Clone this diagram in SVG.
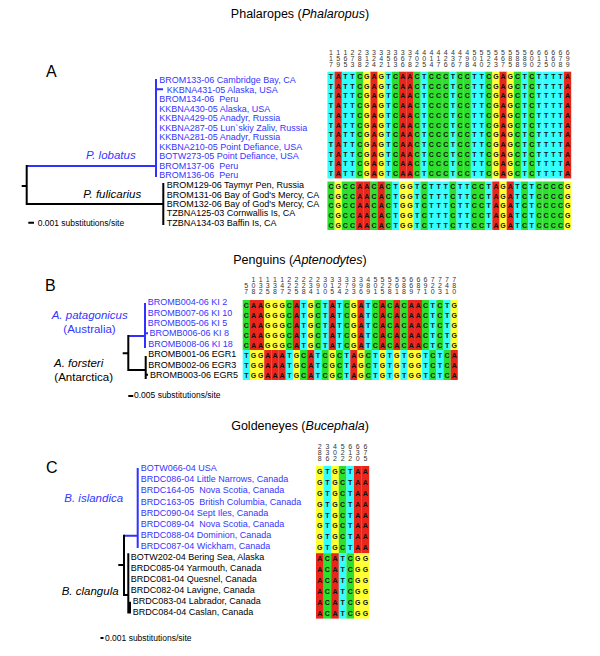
<svg xmlns="http://www.w3.org/2000/svg" width="600" height="656" viewBox="0 0 600 656">
<style>
.A{fill:#e8261c}.C{fill:#2ee02e}.G{fill:#ffff33}.T{fill:#33ffff}
.seq{font-family:"Liberation Sans",Arial,sans-serif;font-weight:bold;font-size:7px;text-anchor:middle;fill:#111}
.hdr{font-family:"Liberation Sans",Arial,sans-serif;font-size:7px;text-anchor:middle;fill:#333}
.lbl{font-family:"Liberation Sans",Arial,sans-serif;font-size:9px;white-space:pre;fill:#000}
.blue{fill:#3535ff}
.sp{font-family:"Liberation Sans",Arial,sans-serif;font-size:11.5px;font-style:italic}
.spn{font-family:"Liberation Sans",Arial,sans-serif;font-size:11.5px}
.title{font-family:"Liberation Sans",Arial,sans-serif;font-size:12.5px;text-anchor:middle}
.panel{font-family:"Liberation Sans",Arial,sans-serif;font-size:16px}
.scale{font-family:"Liberation Sans",Arial,sans-serif;font-size:8.5px}
.bl{stroke:#3030ff;stroke-width:2;fill:none}
.bk{stroke:#000;stroke-width:2;fill:none}
</style>
<defs>
<text id="aLob" class="seq" x="3.59 10.76 17.93 25.1 32.27 39.44 46.61 53.78 60.95 68.12 75.29 82.46 89.63 96.8 103.97 111.14 118.31 125.48 132.65 139.82 146.99 154.16 161.33 168.5 175.67 182.84 190.01 197.18 204.35 211.52 218.69 225.86 233.03 240.2">TATTCGAGTCAACTCCCTCCTTCGAGCTCTTTTA</text>
<text id="aFul" class="seq" x="3.59 10.76 17.93 25.1 32.27 39.44 46.61 53.78 60.95 68.12 75.29 82.46 89.63 96.8 103.97 111.14 118.31 125.48 132.65 139.82 146.99 154.16 161.33 168.5 175.67 182.84 190.01 197.18 204.35 211.52 218.69 225.86 233.03 240.2">CGCCAACACTGGTCTTTCTTCCTAGATCTCCCCG</text>
<text id="bPat" class="seq" x="3.59 10.76 17.93 25.1 32.27 39.44 46.61 53.78 60.95 68.12 75.29 82.46 89.63 96.8 103.97 111.14 118.31 125.48 132.65 139.82 146.99 154.16 161.33 168.5 175.67 182.84 190.01 197.18 204.35 211.52">CAAGGGCATGCTATCGATCACACAACTCTG</text>
<text id="bFor" class="seq" x="3.59 10.76 17.93 25.1 32.27 39.44 46.61 53.78 60.95 68.12 75.29 82.46 89.63 96.8 103.97 111.14 118.31 125.48 132.65 139.82 146.99 154.16 161.33 168.5 175.67 182.84 190.01 197.18 204.35 211.52">TGGAAATGCATCGCTAGCTGTGTGGTCTCA</text>
<text id="cIsl" class="seq" x="3.8 11.4 19 26.6 34.2 41.8 49.4">GTGCTAA</text>
<text id="cCla" class="seq" x="3.8 11.4 19 26.6 34.2 41.8 49.4">ACATCGG</text>
</defs>

<text class="title" x="300" y="17.5">Phalaropes (<tspan font-style="italic">Phalaropus</tspan>)</text>
<text class="title" x="300" y="263.5">Penguins (<tspan font-style="italic">Aptenodytes</tspan>)</text>
<text class="title" x="300" y="429.5">Goldeneyes (<tspan font-style="italic">Bucephala</tspan>)</text>
<text class="panel" x="46" y="77">A</text>
<text class="panel" x="45" y="291">B</text>
<text class="panel" x="46" y="473">C</text>

<g id="connectors">
<path class="bl" d="M26.7 166H156M156 79V177M156 89.3H163"/>
<path class="bk" d="M21.7 186H26.7M26.7 165V205M26.7 204H163.3M163.3 183V225"/>
<path class="bl" d="M128.3 336H145M145 303V348M145 333.2H148"/>
<path class="bk" d="M122.7 353.3H128.3M128.3 335V371M128.3 370H145.7M145.7 356V379M145.7 374.8H148"/>
<path class="bl" d="M124 535.7H137.7M137.7 468V548"/>
<path class="bk" d="M118.3 565H124M124 534.7V596M124 595H128.3M128.3 553.3V613.5M130 601.7V613.5"/>
<path class="bk" d="M28.3 222.7H34M128.3 396H133.3M100.5 638H103.5"/>
</g>

<g id="treeA">
<text class="lbl blue" x="159.3" y="83.2">BROM133-06 Cambridge Bay, CA</text>
<text class="lbl blue" x="166.7" y="92.7">KKBNA431-05 Alaska, USA</text>
<text class="lbl blue" x="159.3" y="102.2">BROM134-06  Peru</text>
<text class="lbl blue" x="159.3" y="111.7">KKBNA430-05 Alaska, USA</text>
<text class="lbl blue" x="159.3" y="121.2">KKBNA429-05 Anadyr, Russia</text>
<text class="lbl blue" x="159.3" y="130.7">KKBNA287-05 Lun`skiy Zaliv, Russia</text>
<text class="lbl blue" x="159.3" y="140.2">KKBNA281-05 Anadyr, Russia</text>
<text class="lbl blue" x="159.3" y="149.7">KKBNA210-05 Point Defiance, USA</text>
<text class="lbl blue" x="159.3" y="159.2">BOTW273-05 Point Defiance, USA</text>
<text class="lbl blue" x="159.3" y="168.7">BROM137-06  Peru</text>
<text class="lbl blue" x="159.3" y="178.2">BROM136-06  Peru</text>
<text class="lbl" x="166.7" y="188.2">BROM129-06 Taymyr Pen, Russia</text>
<text class="lbl" x="166.7" y="197.5">BROM131-06 Bay of God's Mercy, CA</text>
<text class="lbl" x="166.7" y="206.9">BROM132-06 Bay of God's Mercy, CA</text>
<text class="lbl" x="166.7" y="216.3">TZBNA125-03 Cornwallis Is, CA</text>
<text class="lbl" x="166.7" y="225.6">TZBNA134-03 Baffin Is, CA</text>
<text class="sp blue" x="86" y="159">P. lobatus</text>
<text class="sp" x="83.3" y="198">P. fulicarius</text>
<text class="scale" x="37.7" y="225.5">0.001 substitutions/site</text>
</g>

<g id="alignA" transform="translate(327.42,71.7)">
<g>
<rect class="T" x="0" y="0" width="7.3" height="106.7"/><rect class="A" x="7.17" y="0" width="7.3" height="106.7"/><rect class="T" x="14.34" y="0" width="7.3" height="106.7"/><rect class="T" x="21.51" y="0" width="7.3" height="106.7"/><rect class="C" x="28.68" y="0" width="7.3" height="106.7"/><rect class="G" x="35.85" y="0" width="7.3" height="106.7"/><rect class="A" x="43.02" y="0" width="7.3" height="106.7"/><rect class="G" x="50.19" y="0" width="7.3" height="106.7"/><rect class="T" x="57.36" y="0" width="7.3" height="106.7"/><rect class="C" x="64.53" y="0" width="7.3" height="106.7"/><rect class="A" x="71.7" y="0" width="7.3" height="106.7"/><rect class="A" x="78.87" y="0" width="7.3" height="106.7"/><rect class="C" x="86.04" y="0" width="7.3" height="106.7"/><rect class="T" x="93.21" y="0" width="7.3" height="106.7"/><rect class="C" x="100.38" y="0" width="7.3" height="106.7"/><rect class="C" x="107.55" y="0" width="7.3" height="106.7"/><rect class="C" x="114.72" y="0" width="7.3" height="106.7"/><rect class="T" x="121.89" y="0" width="7.3" height="106.7"/><rect class="C" x="129.06" y="0" width="7.3" height="106.7"/><rect class="C" x="136.23" y="0" width="7.3" height="106.7"/><rect class="T" x="143.4" y="0" width="7.3" height="106.7"/><rect class="T" x="150.57" y="0" width="7.3" height="106.7"/><rect class="C" x="157.74" y="0" width="7.3" height="106.7"/><rect class="G" x="164.91" y="0" width="7.3" height="106.7"/><rect class="A" x="172.08" y="0" width="7.3" height="106.7"/><rect class="G" x="179.25" y="0" width="7.3" height="106.7"/><rect class="C" x="186.42" y="0" width="7.3" height="106.7"/><rect class="T" x="193.59" y="0" width="7.3" height="106.7"/><rect class="C" x="200.76" y="0" width="7.3" height="106.7"/><rect class="T" x="207.93" y="0" width="7.3" height="106.7"/><rect class="T" x="215.1" y="0" width="7.3" height="106.7"/><rect class="T" x="222.27" y="0" width="7.3" height="106.7"/><rect class="T" x="229.44" y="0" width="7.3" height="106.7"/><rect class="A" x="236.61" y="0" width="7.17" height="106.7"/>
</g>
<g transform="translate(0,109.8)">
<rect class="C" x="0" y="0" width="7.3" height="48.5"/><rect class="G" x="7.17" y="0" width="7.3" height="48.5"/><rect class="C" x="14.34" y="0" width="7.3" height="48.5"/><rect class="C" x="21.51" y="0" width="7.3" height="48.5"/><rect class="A" x="28.68" y="0" width="7.3" height="48.5"/><rect class="A" x="35.85" y="0" width="7.3" height="48.5"/><rect class="C" x="43.02" y="0" width="7.3" height="48.5"/><rect class="A" x="50.19" y="0" width="7.3" height="48.5"/><rect class="C" x="57.36" y="0" width="7.3" height="48.5"/><rect class="T" x="64.53" y="0" width="7.3" height="48.5"/><rect class="G" x="71.7" y="0" width="7.3" height="48.5"/><rect class="G" x="78.87" y="0" width="7.3" height="48.5"/><rect class="T" x="86.04" y="0" width="7.3" height="48.5"/><rect class="C" x="93.21" y="0" width="7.3" height="48.5"/><rect class="T" x="100.38" y="0" width="7.3" height="48.5"/><rect class="T" x="107.55" y="0" width="7.3" height="48.5"/><rect class="T" x="114.72" y="0" width="7.3" height="48.5"/><rect class="C" x="121.89" y="0" width="7.3" height="48.5"/><rect class="T" x="129.06" y="0" width="7.3" height="48.5"/><rect class="T" x="136.23" y="0" width="7.3" height="48.5"/><rect class="C" x="143.4" y="0" width="7.3" height="48.5"/><rect class="C" x="150.57" y="0" width="7.3" height="48.5"/><rect class="T" x="157.74" y="0" width="7.3" height="48.5"/><rect class="A" x="164.91" y="0" width="7.3" height="48.5"/><rect class="G" x="172.08" y="0" width="7.3" height="48.5"/><rect class="A" x="179.25" y="0" width="7.3" height="48.5"/><rect class="T" x="186.42" y="0" width="7.3" height="48.5"/><rect class="C" x="193.59" y="0" width="7.3" height="48.5"/><rect class="T" x="200.76" y="0" width="7.3" height="48.5"/><rect class="C" x="207.93" y="0" width="7.3" height="48.5"/><rect class="C" x="215.1" y="0" width="7.3" height="48.5"/><rect class="C" x="222.27" y="0" width="7.3" height="48.5"/><rect class="C" x="229.44" y="0" width="7.3" height="48.5"/><rect class="G" x="236.61" y="0" width="7.17" height="48.5"/>
</g>
<use href="#aLob" y="7.3"/><use href="#aLob" y="17"/><use href="#aLob" y="26.7"/><use href="#aLob" y="36.4"/><use href="#aLob" y="46.1"/><use href="#aLob" y="55.8"/><use href="#aLob" y="65.5"/><use href="#aLob" y="75.2"/><use href="#aLob" y="84.9"/><use href="#aLob" y="94.6"/><use href="#aLob" y="104.3"/>
<use href="#aFul" y="117.1"/><use href="#aFul" y="126.8"/><use href="#aFul" y="136.5"/><use href="#aFul" y="146.2"/><use href="#aFul" y="155.9"/>
<text class="hdr" y="-17.2" x="3.59 10.76 17.93 25.1 32.27 39.44 46.61 53.78 60.95 68.12 75.29 82.46 89.63 96.8 103.97 111.14 118.31 125.48 132.65 139.82 146.99 154.16 161.33 168.5 175.67 182.84 190.01 197.18 204.35 211.52 218.69 225.86 233.03 240.2">1112233333334444444455555555666666</text>
<text class="hdr" y="-11.2" x="3.59 10.76 17.93 25.1 32.27 39.44 46.61 53.78 60.95 68.12 75.29 82.46 89.63 96.8 103.97 111.14 118.31 125.48 132.65 139.82 146.99 154.16 161.33 168.5 175.67 182.84 190.01 197.18 204.35 211.52 218.69 225.86 233.03 240.2">1567812456670011237901246888011679</text>
<text class="hdr" y="-5.2" x="3.59 10.76 17.93 25.1 32.27 39.44 46.61 53.78 60.95 68.12 75.29 82.46 89.63 96.8 103.97 111.14 118.31 125.48 132.65 139.82 146.99 154.16 161.33 168.5 175.67 182.84 190.01 197.18 204.35 211.52 218.69 225.86 233.03 240.2">7953824213682547667840237589025089</text>
</g>

<g id="treeB">
<text class="lbl blue" x="147.7" y="305.2">BROMB004-06 KI 2</text>
<text class="lbl blue" x="147.7" y="315.6">BROMB007-06 KI 10</text>
<text class="lbl blue" x="147.7" y="326">BROMB005-06 KI 5</text>
<text class="lbl blue" x="149.5" y="336.4">BROMB006-06 KI 8</text>
<text class="lbl blue" x="148.3" y="346.8">BROMB008-06 KI 18</text>
<text class="lbl" x="148.3" y="357.2">BROMB001-06 EGR1</text>
<text class="lbl" x="148.3" y="367.6">BROMB002-06 EGR3</text>
<text class="lbl" x="150" y="378">BROMB003-06 EGR5</text>
<text class="sp blue" x="51.7" y="319">A. patagonicus</text>
<text class="spn blue" x="63.3" y="333">(Australia)</text>
<text class="sp" x="54" y="367">A. forsteri</text>
<text class="spn" x="54.3" y="381">(Antarctica)</text>
<text class="scale" x="134" y="398">0.005 substitutions/site</text>
</g>

<g id="alignB" transform="translate(242.7,300)">
<g>
<rect class="C" x="0" y="0" width="7.3" height="50"/><rect class="A" x="7.17" y="0" width="7.3" height="50"/><rect class="A" x="14.34" y="0" width="7.3" height="50"/><rect class="G" x="21.51" y="0" width="7.3" height="50"/><rect class="G" x="28.68" y="0" width="7.3" height="50"/><rect class="G" x="35.85" y="0" width="7.3" height="50"/><rect class="C" x="43.02" y="0" width="7.3" height="50"/><rect class="A" x="50.19" y="0" width="7.3" height="50"/><rect class="T" x="57.36" y="0" width="7.3" height="50"/><rect class="G" x="64.53" y="0" width="7.3" height="50"/><rect class="C" x="71.7" y="0" width="7.3" height="50"/><rect class="T" x="78.87" y="0" width="7.3" height="50"/><rect class="A" x="86.04" y="0" width="7.3" height="50"/><rect class="T" x="93.21" y="0" width="7.3" height="50"/><rect class="C" x="100.38" y="0" width="7.3" height="50"/><rect class="G" x="107.55" y="0" width="7.3" height="50"/><rect class="A" x="114.72" y="0" width="7.3" height="50"/><rect class="T" x="121.89" y="0" width="7.3" height="50"/><rect class="C" x="129.06" y="0" width="7.3" height="50"/><rect class="A" x="136.23" y="0" width="7.3" height="50"/><rect class="C" x="143.4" y="0" width="7.3" height="50"/><rect class="A" x="150.57" y="0" width="7.3" height="50"/><rect class="C" x="157.74" y="0" width="7.3" height="50"/><rect class="A" x="164.91" y="0" width="7.3" height="50"/><rect class="A" x="172.08" y="0" width="7.3" height="50"/><rect class="C" x="179.25" y="0" width="7.3" height="50"/><rect class="T" x="186.42" y="0" width="7.3" height="50"/><rect class="C" x="193.59" y="0" width="7.3" height="50"/><rect class="T" x="200.76" y="0" width="7.3" height="50"/><rect class="G" x="207.93" y="0" width="7.17" height="50"/>
</g>
<g transform="translate(0,50)">
<rect class="T" x="0" y="0" width="7.3" height="30"/><rect class="G" x="7.17" y="0" width="7.3" height="30"/><rect class="G" x="14.34" y="0" width="7.3" height="30"/><rect class="A" x="21.51" y="0" width="7.3" height="30"/><rect class="A" x="28.68" y="0" width="7.3" height="30"/><rect class="A" x="35.85" y="0" width="7.3" height="30"/><rect class="T" x="43.02" y="0" width="7.3" height="30"/><rect class="G" x="50.19" y="0" width="7.3" height="30"/><rect class="C" x="57.36" y="0" width="7.3" height="30"/><rect class="A" x="64.53" y="0" width="7.3" height="30"/><rect class="T" x="71.7" y="0" width="7.3" height="30"/><rect class="C" x="78.87" y="0" width="7.3" height="30"/><rect class="G" x="86.04" y="0" width="7.3" height="30"/><rect class="C" x="93.21" y="0" width="7.3" height="30"/><rect class="T" x="100.38" y="0" width="7.3" height="30"/><rect class="A" x="107.55" y="0" width="7.3" height="30"/><rect class="G" x="114.72" y="0" width="7.3" height="30"/><rect class="C" x="121.89" y="0" width="7.3" height="30"/><rect class="T" x="129.06" y="0" width="7.3" height="30"/><rect class="G" x="136.23" y="0" width="7.3" height="30"/><rect class="T" x="143.4" y="0" width="7.3" height="30"/><rect class="G" x="150.57" y="0" width="7.3" height="30"/><rect class="T" x="157.74" y="0" width="7.3" height="30"/><rect class="G" x="164.91" y="0" width="7.3" height="30"/><rect class="G" x="172.08" y="0" width="7.3" height="30"/><rect class="T" x="179.25" y="0" width="7.3" height="30"/><rect class="C" x="186.42" y="0" width="7.3" height="30"/><rect class="T" x="193.59" y="0" width="7.3" height="30"/><rect class="C" x="200.76" y="0" width="7.3" height="30"/><rect class="A" x="207.93" y="0" width="7.17" height="30"/>
</g>
<use href="#bPat" y="7.5"/><use href="#bPat" y="17.5"/><use href="#bPat" y="27.5"/><use href="#bPat" y="37.5"/><use href="#bPat" y="47.5"/>
<use href="#bFor" y="57.5"/><use href="#bFor" y="67.5"/><use href="#bFor" y="77.5"/>
<text class="hdr" y="-18.5" x="10.76 17.93 25.1 32.27 39.44 46.61 53.78 60.95 68.12 75.29 82.46 89.63 96.8 103.97 111.14 118.31 125.48 132.65 139.82 146.99 154.16 161.33 168.5 175.67 182.84 190.01 197.18 204.35 211.52">11111222223333334555556667777</text>
<text class="hdr" y="-12.5" x="3.59 10.76 17.93 25.1 32.27 39.44 46.61 53.78 60.95 68.12 75.29 82.46 89.63 96.8 103.97 111.14 118.31 125.48 132.65 139.82 146.99 154.16 161.33 168.5 175.67 182.84 190.01 197.18 204.35 211.52">503334222390127998022686892248</text>
<text class="hdr" y="-6.5" x="3.59 10.76 17.93 25.1 32.27 39.44 46.61 53.78 60.95 68.12 75.29 82.46 89.63 96.8 103.97 111.14 118.31 125.48 132.65 139.82 146.99 154.16 161.33 168.5 175.67 182.84 190.01 197.18 204.35 211.52">782587258410542369158189710310</text>
</g>

<g id="treeC">
<text class="lbl blue" x="140.7" y="470.9">BOTW066-04 USA</text>
<text class="lbl blue" x="140.7" y="482.1">BRDC086-04 Little Narrows, Canada</text>
<text class="lbl blue" x="140.7" y="493.3">BRDC164-05  Nova Scotia, Canada</text>
<text class="lbl blue" x="140.7" y="504.5">BRDC163-05  British Columbia, Canada</text>
<text class="lbl blue" x="140.7" y="515.7">BRDC090-04 Sept Iles, Canada</text>
<text class="lbl blue" x="140.7" y="526.9">BRDC089-04  Nova Scotia, Canada</text>
<text class="lbl blue" x="140.7" y="538.1">BRDC088-04 Dominion, Canada</text>
<text class="lbl blue" x="140.7" y="549.3">BRDC087-04 Wickham, Canada</text>
<text class="lbl" x="130.7" y="560">BOTW202-04 Bering Sea, Alaska</text>
<text class="lbl" x="130.7" y="571">BRDC085-04 Yarmouth, Canada</text>
<text class="lbl" x="130.7" y="582">BRDC081-04 Quesnel, Canada</text>
<text class="lbl" x="130.7" y="593.2">BRDC082-04 Lavigne, Canada</text>
<text class="lbl" x="132.7" y="604.4">BRDC083-04 Labrador, Canada</text>
<text class="lbl" x="132.7" y="615.4">BRDC084-04 Caslan, Canada</text>
<text class="sp blue" x="64.3" y="501.5">B. islandica</text>
<text class="sp" x="61.7" y="595">B. clangula</text>
<text class="scale" x="105" y="641">0.001 substitutions/site</text>
</g>

<g id="alignC" transform="translate(316,466)">
<rect class="G" x="0" y="0" width="7.7" height="87.2"/><rect class="T" x="7.6" y="0" width="7.7" height="87.2"/><rect class="G" x="15.2" y="0" width="7.7" height="87.2"/><rect class="C" x="22.8" y="0" width="7.7" height="87.2"/><rect class="T" x="30.4" y="0" width="7.7" height="87.2"/><rect class="A" x="38" y="0" width="7.7" height="87.2"/><rect class="A" x="45.6" y="0" width="7.6" height="87.2"/>
<rect class="A" x="0" y="87.2" width="7.7" height="65.4"/><rect class="C" x="7.6" y="87.2" width="7.7" height="65.4"/><rect class="A" x="15.2" y="87.2" width="7.7" height="65.4"/><rect class="T" x="22.8" y="87.2" width="7.7" height="65.4"/><rect class="C" x="30.4" y="87.2" width="7.7" height="65.4"/><rect class="G" x="38" y="87.2" width="7.7" height="65.4"/><rect class="G" x="45.6" y="87.2" width="7.6" height="65.4"/>
<use href="#cIsl" y="7.95"/><use href="#cIsl" y="18.85"/><use href="#cIsl" y="29.75"/><use href="#cIsl" y="40.65"/><use href="#cIsl" y="51.55"/><use href="#cIsl" y="62.45"/><use href="#cIsl" y="73.35"/><use href="#cIsl" y="84.25"/>
<use href="#cCla" y="95.15"/><use href="#cCla" y="106.05"/><use href="#cCla" y="116.95"/><use href="#cCla" y="127.85"/><use href="#cCla" y="138.75"/><use href="#cCla" y="149.65"/>
<text class="hdr" y="-16.8" x="3.8 11.4 19 26.6 34.2 41.8 49.4">2345666</text>
<text class="hdr" y="-11" x="3.8 11.4 19 26.6 34.2 41.8 49.4">8302137</text>
<text class="hdr" y="-5" x="3.8 11.4 19 26.6 34.2 41.8 49.4">8622205</text>
</g>
</svg>
